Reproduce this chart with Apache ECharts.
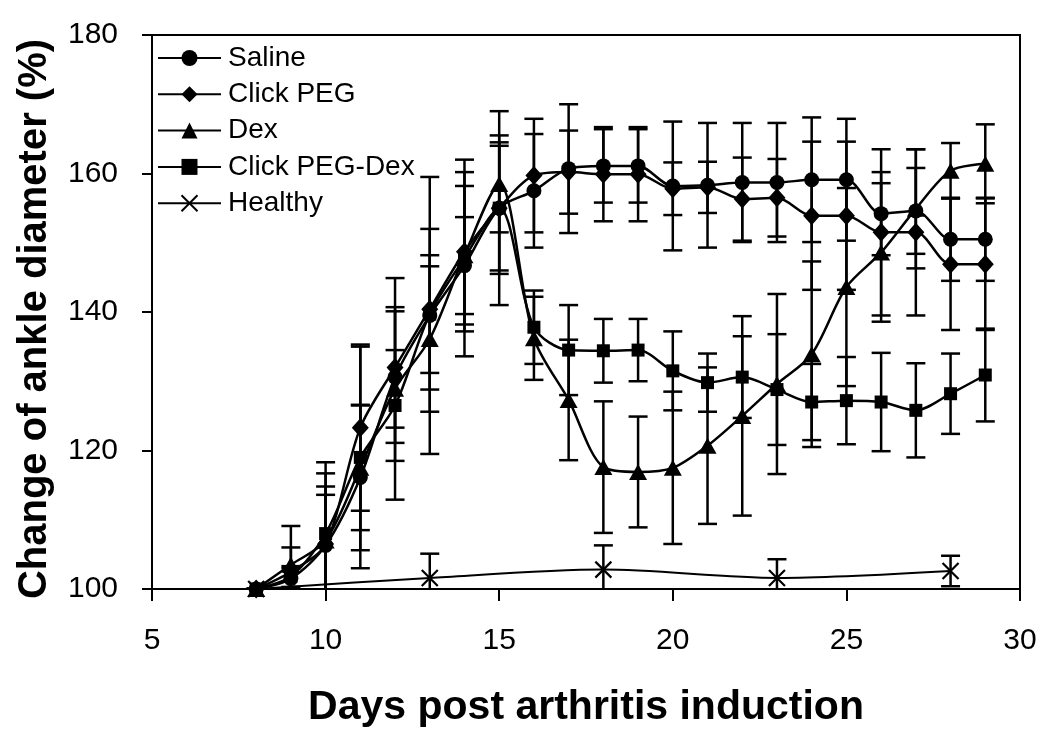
<!DOCTYPE html>
<html>
<head>
<meta charset="utf-8">
<script src="https://cdn.jsdelivr.net/npm/echarts@6/dist/echarts.min.js"></script>
<style>
html,body{margin:0;padding:0;background:#fff;}
#chart{width:1050px;height:741px;}
</style>
</head>
<body>
<div id="chart"></div>
<script>
// ---- data ----
const days = [8,9,10,11,12,13,14,15,16,17,18,19,20,21,22,23,24,25,26,27,28,29];
const salineMean = [100,101.5,106.3,116.1,130.6,139.5,146.7,155,157.5,160.7,161.1,161.1,158.2,158.3,158.7,158.7,159.1,159.1,154.2,154.6,150.5,150.5];
const salineSD   = [0,1.5,7.3,10.5,9.5,20,7,9.5,8.2,9.3,5.3,5.3,9.3,9,8.6,8.6,9,8.8,6,6.2,6,6];
const clickPegMean = [100,102.5,106.5,123.3,132,140.4,148.7,155,159.7,160.2,159.9,159.9,157.8,158,156.3,156.5,153.9,153.9,151.5,151.5,146.9,146.9];
const clickPegSD   = [0,3.5,10.2,12,8.7,11.6,11.5,9,8.2,6,6.8,6.8,3.8,3.7,6,5.6,10.7,10.7,12,12,9.5,9.5];
const dexMean = [100,103.5,107,117.5,128.9,136.1,148.2,158.5,136.2,127.3,117.6,116.9,117.5,120.7,125,129.6,133.9,143.6,148.6,154.9,160.4,161.4];
const dexSD   = [0,5.6,7.8,9,16,10.5,10,7,6,8.7,9.5,8,11,11.3,14.4,13,13.4,14.3,10,8.6,4,5.7];
const pegDexMean = [100,101.8,108,119,126.5,139.7,147.8,155,137.8,134.5,134.4,134.5,131.5,129.8,130.6,128.8,127,127.2,127,125.8,128.2,130.9];
const pegDexSD   = [0,1.5,10.3,16,8,8.5,14.2,14,5.3,6.5,4.6,4.5,5.7,4.2,5.9,8,5.5,6.3,7.1,6.8,5.8,6.7];
const healthyDays = [8,13,18,23,28];
const healthyMean = [100,101.6,102.8,101.6,102.6];
const healthySD   = [0,3.5,3.5,2.7,2.2];
const xTicks = {min:5, max:30, interval:5};
const yTicks = {min:100, max:180, interval:20};

const groups = [
  {name:'Saline', x:days, m:salineMean, sd:salineSD, symbol:'circle', size:15},
  {name:'Click PEG', x:days, m:clickPegMean, sd:clickPegSD, symbol:'diamond', size:[17,19]},
  {name:'Dex', x:days, m:dexMean, sd:dexSD, symbol:'triangle', size:[18,16]},
  {name:'Click PEG-Dex', x:days, m:pegDexMean, sd:pegDexSD, symbol:'rect', size:13},
  {name:'Healthy', x:healthyDays, m:healthyMean, sd:healthySD, symbol:'path://M0,0L10,10M10,0L0,10', size:16}
];

function errRender(params, api){
  const x = api.value(0), lo = api.value(1), hi = api.value(2);
  const a = api.coord([x, lo]), b = api.coord([x, hi]);
  const hw = 9.5;
  const st = {stroke:'#000', lineWidth:2.5, fill:null};
  return {type:'group', children:[
    {type:'line', shape:{x1:a[0], y1:a[1], x2:b[0], y2:b[1]}, style:st},
    {type:'line', shape:{x1:a[0]-hw, y1:a[1], x2:a[0]+hw, y2:a[1]}, style:st},
    {type:'line', shape:{x1:b[0]-hw, y1:b[1], x2:b[0]+hw, y2:b[1]}, style:st}
  ]};
}

const series = [];
groups.forEach(g => {
  series.push({
    name: g.name + ' SD', type:'custom', renderItem: errRender, clip:true,
    encode:{x:0, y:[1,2]}, silent:true, z:2,
    data: g.x.map((d,i) => [d, g.m[i]-g.sd[i], g.m[i]+g.sd[i]])
  });
});
groups.forEach(g => {
  const isH = g.name === 'Healthy';
  series.push({
    name: g.name, type:'line', smooth:0.3, z:5,
    symbol: g.symbol, symbolSize: g.size, showAllSymbol:true,
    itemStyle:{color:'#000', borderColor:'#000', borderWidth: isH ? 2.2 : 0},
    lineStyle:{color:'#000', width: isH ? 2 : 2.5},
    emphasis:{disabled:true},
    data: g.x.map((d,i) => [d, g.m[i]])
  });
});

const chart = echarts.init(document.getElementById('chart'));
chart.setOption({
  animation:false,
  backgroundColor:'#fff',
  grid:{left:152, right:30, top:35, bottom:152, show:true, borderColor:'#000', borderWidth:2, backgroundColor:'transparent'},
  legend:{
    left:157, top:44, orient:'vertical', itemWidth:63, itemHeight:20, itemGap:8.3, padding:0,
    data: groups.map(g => g.name),
    textStyle:{fontFamily:'Liberation Sans', fontSize:28, color:'#000', padding:[0,0,0,2]},
    selectedMode:false
  },
  xAxis:{
    type:'value', min:xTicks.min, max:xTicks.max, interval:xTicks.interval,
    name:'Days post arthritis induction', nameLocation:'middle', nameGap:98,
    nameTextStyle:{fontFamily:'Liberation Sans', fontWeight:'bold', fontSize:41, color:'#000'},
    axisLine:{show:true, lineStyle:{color:'#000', width:2}},
    axisTick:{show:true, inside:false, length:12, lineStyle:{color:'#000', width:2}},
    axisLabel:{fontFamily:'Liberation Sans', fontSize:30, color:'#000', margin:37},
    splitLine:{show:false}
  },
  yAxis:{
    type:'value', min:yTicks.min, max:yTicks.max, interval:yTicks.interval,
    name:'Change of ankle diameter (%)', nameLocation:'middle', nameGap:97,
    nameTextStyle:{fontFamily:'Liberation Sans', fontWeight:'bold', fontSize:40, color:'#000', padding:[0,14,0,0]},
    axisLine:{show:true, lineStyle:{color:'#000', width:2}},
    axisTick:{show:true, inside:false, length:10, lineStyle:{color:'#000', width:2}},
    axisLabel:{fontFamily:'Liberation Sans', fontSize:30, color:'#000', margin:34},
    splitLine:{show:false}
  },
  series: series
});
</script>
</body>
</html>
